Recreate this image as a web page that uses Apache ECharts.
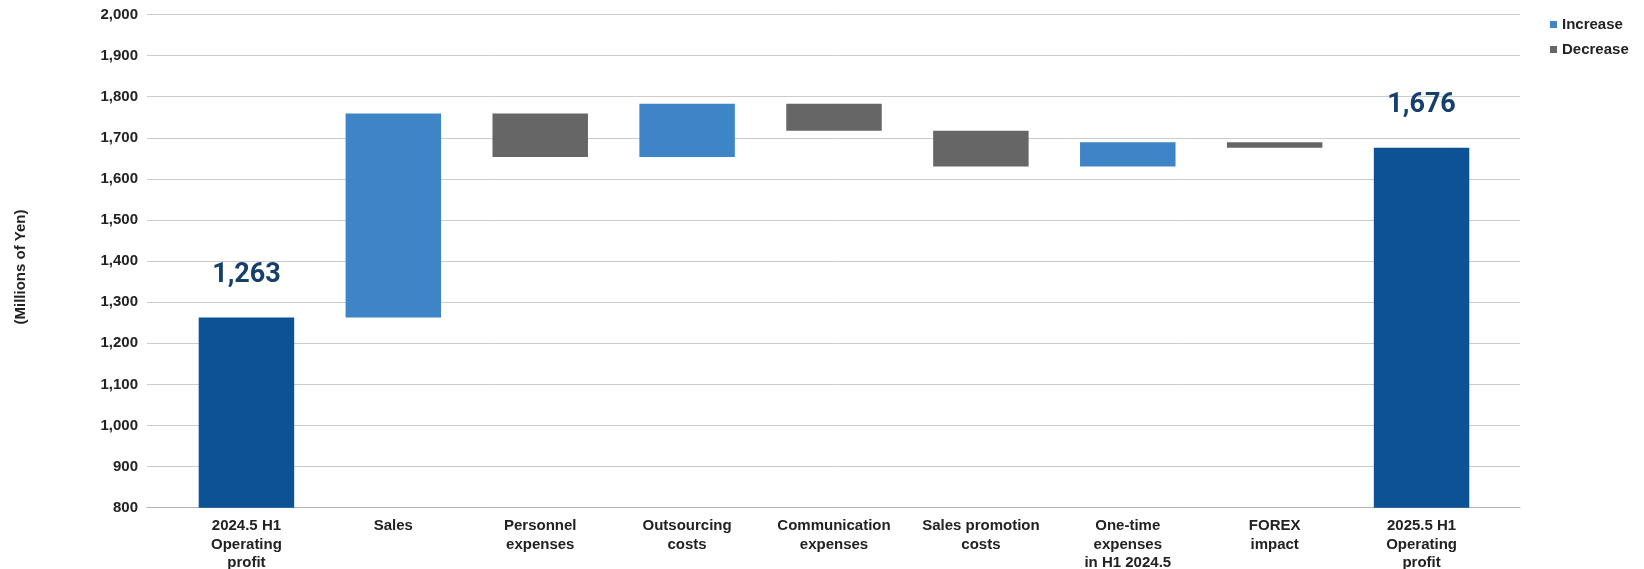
<!DOCTYPE html>
<html>
<head>
<meta charset="utf-8">
<script src="https://cdn.jsdelivr.net/npm/echarts@6/dist/echarts.min.js"></script>
<style>
html,body{margin:0;padding:0;background:#fff;}
#main{width:1644px;height:569px;}
</style>
</head>
<body>
<div id="main"></div>
<script>
// ---- data ----
var categories = [
  '2024.5 H1\nOperating\nprofit',
  'Sales',
  'Personnel\nexpenses',
  'Outsourcing\ncosts',
  'Communication\nexpenses',
  'Sales promotion\ncosts',
  'One-time\nexpenses\nin H1 2024.5',
  'FOREX\nimpact',
  '2025.5 H1\nOperating\nprofit'
];
var startValue = 1263;
var changes = [496, -106, 130, -66, -87, 59, -13];
var endValue = 1676;
var yTicks = { min: 800, max: 2000, interval: 100 };
var legendNames = ['Increase', 'Decrease'];

// ---- build waterfall stacks ----
var baseData = [0];
var totalData = [startValue];
var incData = ['-'];
var decData = ['-'];
var running = startValue;
changes.forEach(function (c) {
  if (c >= 0) {
    baseData.push(running);
    incData.push(c);
    decData.push('-');
    totalData.push('-');
  } else {
    baseData.push(running + c);
    decData.push(-c);
    incData.push('-');
    totalData.push('-');
  }
  running += c;
});
baseData.push(0);
totalData.push(endValue);
incData.push('-');
decData.push('-');

var FONT = '"Liberation Sans", Arial, sans-serif';

var chart = echarts.init(document.getElementById('main'), null, { renderer: 'canvas' });
chart.setOption({
  animation: false,
  backgroundColor: '#ffffff',
  legend: {
    data: legendNames,
    orient: 'vertical',
    left: 1545,
    top: 12,
    itemWidth: 7,
    itemHeight: 7,
    itemGap: 10,
    icon: 'rect',
    textStyle: { fontFamily: FONT, fontWeight: 'bold', fontSize: 15, color: '#222' }
  },
  graphic: [{
    type: 'text',
    x: 21,
    y: 267,
    rotation: Math.PI / 2,
    style: {
      text: '(Millions of Yen)',
      font: 'bold 15px ' + FONT,
      fill: '#222',
      align: 'center',
      verticalAlign: 'middle'
    }
  }],
  grid: [
    { left: 147, right: 124, top: 14.5, bottom: 61.3, containLabel: false, outerBoundsMode: 'none' },
    { left: 173, right: 149, top: 14.5, bottom: 61.3, containLabel: false, outerBoundsMode: 'none' }
  ],
  xAxis: [
    {
      gridIndex: 0, type: 'value', min: 0, max: 1,
      axisLabel: { show: false }, axisTick: { show: false },
      splitLine: { show: false },
      axisLine: { show: true, lineStyle: { color: '#b3b3b3', width: 1 } }
    },
    {
      gridIndex: 1, type: 'category', data: categories,
      axisLine: { show: false }, axisTick: { show: false },
      axisLabel: {
        interval: 0, margin: 9,
        fontFamily: FONT, fontWeight: 'bold', fontSize: 15, color: '#222',
        lineHeight: 18.5
      }
    }
  ],
  yAxis: [
    {
      gridIndex: 0, type: 'value',
      min: yTicks.min, max: yTicks.max, interval: yTicks.interval,
      axisLine: { show: false }, axisTick: { show: false },
      axisLabel: {
        margin: 9, fontFamily: FONT, fontWeight: 'bold', fontSize: 15, color: '#222',
        formatter: function (v) { return v.toLocaleString('en-US'); }
      },
      splitLine: { lineStyle: { color: '#cccccc', width: 1 } }
    },
    {
      gridIndex: 1, type: 'value',
      min: yTicks.min, max: yTicks.max, interval: yTicks.interval,
      show: false, splitLine: { show: false }
    }
  ],
  series: [
    {
      name: 'Base', type: 'bar', stack: 'w', xAxisIndex: 1, yAxisIndex: 1,
      data: baseData, barWidth: '65%',
      itemStyle: { color: 'transparent' }, silent: true
    },
    {
      name: 'Total', type: 'bar', stack: 'w', xAxisIndex: 1, yAxisIndex: 1,
      data: totalData, barWidth: '65%',
      itemStyle: { color: '#0b5394' },
      label: {
        show: true, position: 'top', distance: 29,
        fontFamily: 'Roboto, sans-serif', fontWeight: 'bold', fontSize: 27, color: '#163f6b',
        formatter: function (p) { return Number(p.value).toLocaleString('en-US'); }
      }
    },
    {
      name: 'Increase', type: 'bar', stack: 'w', xAxisIndex: 1, yAxisIndex: 1,
      data: incData, barWidth: '65%',
      itemStyle: { color: '#3d85c6' }
    },
    {
      name: 'Decrease', type: 'bar', stack: 'w', xAxisIndex: 1, yAxisIndex: 1,
      data: decData, barWidth: '65%',
      itemStyle: { color: '#666666' }
    }
  ]
});
</script>
</body>
</html>
